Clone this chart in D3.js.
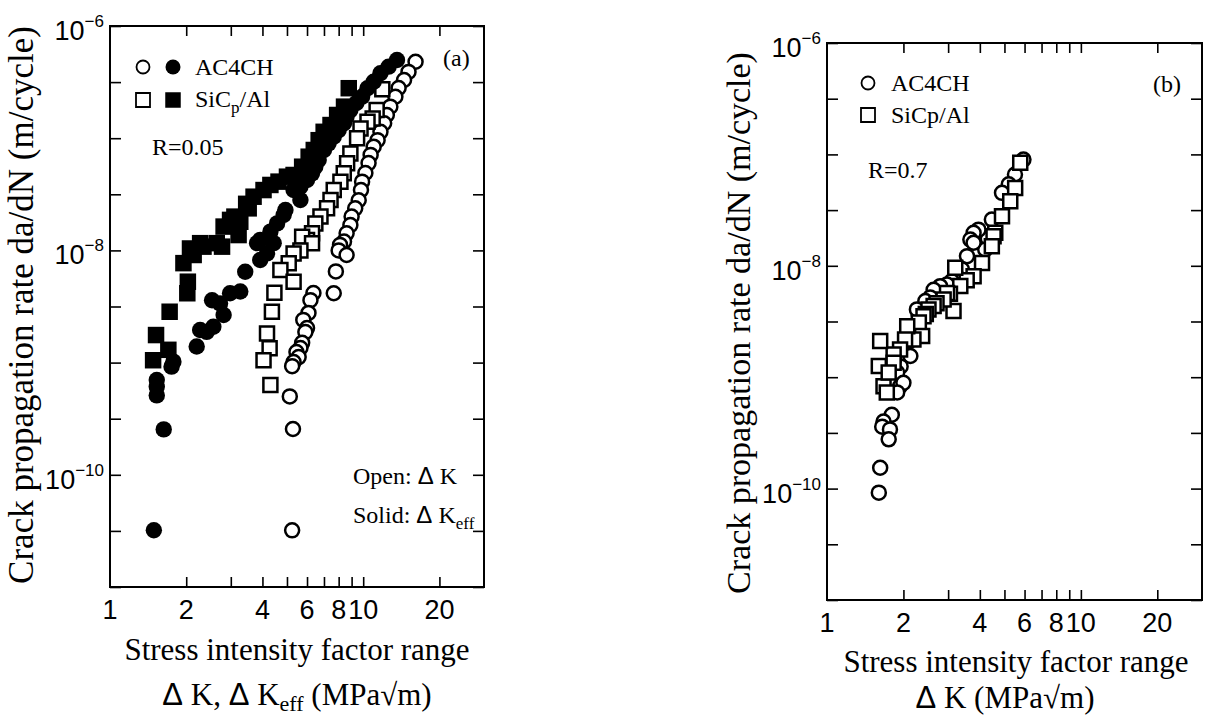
<!DOCTYPE html>
<html><head><meta charset="utf-8">
<script src="https://cdn.jsdelivr.net/npm/d3@7"></script>
<style>body{margin:0;background:#fff}svg{display:block}</style>
</head><body>
<svg id="chart" width="1230" height="718"></svg>
<script>
// ---------------- data ----------------
const xTickValues = [2, 3, 4, 5, 6, 7, 8, 9, 10, 20];
const xTickLabels = [1, 2, 4, 6, 8, 10, 20];
const yTickExponents = [-6, -6.5, -7, -7.5, -8, -8.5, -9, -9.5, -10, -10.5, -11];
const yLabelExponents = [-6, -8, -10];

// Panel (a), R = 0.05 : [ΔK or ΔKeff (MPa√m), da/dN (m/cycle)]
const aAC4CH_dK = [[16.1,4.8e-7],[15.1,3.9e-7],[14.5,3.3e-7],[13.8,2.8e-7],[13.4,2.34e-7],[12.8,1.91e-7],[12.4,1.61e-7],[12.1,1.36e-7],[11.7,1.14e-7],[11.4,9.6e-8],[11.0,8.4e-8],[10.7,7.1e-8],[10.5,6.0e-8],[10.2,4.9e-8],[9.9,4.1e-8],[9.8,3.45e-8],[9.6,2.8e-8],[9.3,2.37e-8],[9.0,2.0e-8],[8.9,1.68e-8],[8.6,1.42e-8],[8.4,1.2e-8],[8.1,1.12e-8],[8.0,1.0e-8],[8.6,9.1e-9],[7.8,6.5e-9],[7.65,4.15e-9],[6.36,4.17e-9],[6.19,3.6e-9],[6.08,2.77e-9],[5.8,2.4e-9],[6.0,2.03e-9],[5.91,1.87e-9],[5.74,1.5e-9],[5.65,1.35e-9],[5.45,1.24e-9],[5.56,1.12e-9],[5.31,1.01e-9],[5.24,9.3e-10],[5.13,5.0e-10],[5.28,2.56e-10],[5.24,3.2e-11]];
const aSiC_dK = [[11.9,2.73e-7],[11.3,1.78e-7],[10.9,1.5e-7],[10.4,1.4e-7],[9.76,1.22e-7],[9.46,9.97e-8],[8.9,7.3e-8],[8.64,5.97e-8],[8.38,4.87e-8],[8.13,4.1e-8],[7.65,3.45e-8],[7.43,2.81e-8],[7.2,2.37e-8],[6.78,2.0e-8],[6.47,1.74e-8],[6.28,1.42e-8],[6.0,1.24e-8],[5.74,1.32e-8],[6.28,1.16e-8],[5.65,1.0e-8],[5.31,9.4e-9],[5.08,7.7e-9],[4.71,6.7e-9],[5.31,5.26e-9],[4.46,4.2e-9],[4.36,2.84e-9],[4.17,1.82e-9],[4.27,1.34e-9],[4.04,1.05e-9],[4.3,6.3e-10]];
const aAC4CH_dKeff = [[13.6,4.98e-7],[12.6,4.34e-7],[11.7,3.79e-7],[11.0,3.19e-7],[10.4,2.79e-7],[9.9,2.34e-7],[9.4,2.06e-7],[8.9,1.78e-7],[8.6,1.56e-7],[8.4,1.36e-7],[8.0,1.18e-7],[7.65,1.03e-7],[7.3,9.0e-8],[7.0,7.85e-8],[6.67,6.4e-8],[6.47,5.57e-8],[6.28,4.86e-8],[6.0,4.24e-8],[5.65,3.7e-8],[5.31,3.45e-8],[5.65,2.81e-8],[4.93,2.29e-8],[4.85,2.07e-8],[4.57,1.74e-8],[4.3,1.47e-8],[4.43,1.16e-8],[3.92,1.24e-8],[3.81,1.16e-8],[4.17,9.4e-9],[3.92,8.2e-9],[3.42,6.46e-9],[3.27,4.3e-9],[2.98,4.15e-9],[2.72,3.37e-9],[2.53,3.6e-9],[2.81,2.66e-9],[2.56,2.09e-9],[2.41,1.88e-9],[2.27,1.95e-9],[2.2,1.39e-9],[1.78,1.02e-9],[1.75,9.2e-10],[1.53,7.0e-10],[1.53,6.1e-10],[1.53,5.1e-10],[1.63,2.54e-10],[1.49,3.2e-11]];
const aSiC_dKeff = [[8.77,2.79e-7],[8.4,1.91e-7],[7.89,1.61e-7],[7.43,1.31e-7],[6.98,1.14e-7],[6.67,9.6e-8],[6.38,7.85e-8],[6.09,6.84e-8],[5.74,5.57e-8],[5.31,4.7e-8],[5.0,4.54e-8],[4.63,4.1e-8],[4.3,3.83e-8],[4.04,3.45e-8],[3.69,3.01e-8],[3.45,2.6e-8],[3.53,2.37e-8],[3.1,2.0e-8],[3.27,1.8e-8],[2.98,1.87e-8],[2.81,1.63e-8],[3.22,1.37e-8],[2.77,1.08e-8],[2.64,1.16e-8],[2.34,1.08e-8],[2.27,1.16e-8],[2.07,1.04e-8],[2.14,9.1e-9],[1.95,7.7e-9],[2.03,5.26e-9],[2.02,4.15e-9],[1.72,2.84e-9],[1.52,1.76e-9],[1.7,1.3e-9],[1.48,1.05e-9]];

// Panel (b), R = 0.7 : [ΔK (MPa√m), da/dN (m/cycle)]
const bAC4CH = [[5.94,8.98e-8],[5.5,6.6e-8],[5.2,5.4e-8],[4.89,4.52e-8],[4.46,2.6e-8],[4.3,1.75e-8],[4.2,1.4e-8],[3.95,2.11e-8],[3.78,1.98e-8],[3.67,1.72e-8],[3.78,1.61e-8],[3.56,1.22e-8],[3.4,9.3e-9],[3.25,8.0e-9],[3.1,7.3e-9],[2.97,6.8e-9],[2.79,6.56e-9],[2.63,6.1e-9],[2.55,5.2e-9],[2.44,4.82e-9],[2.3,3.6e-9],[2.26,4.06e-9],[2.19,2.68e-9],[2.1,2.1e-9],[2.13,1.55e-9],[1.95,1.25e-9],[1.89,1.1e-9],[1.94,8.3e-10],[2.0,8.9e-10],[1.89,7.3e-10],[1.8,4.6e-10],[1.67,4.0e-10],[1.65,3.6e-10],[1.77,3.4e-10],[1.75,2.77e-10],[1.62,1.54e-10],[1.6,9.2e-11]];
const bSiC = [[5.77,8.4e-8],[5.51,5.0e-8],[5.27,3.8e-8],[4.89,2.79e-8],[4.6,1.98e-8],[4.53,1.84e-8],[4.46,1.5e-8],[4.08,1.06e-8],[3.78,8.07e-9],[3.55,7.4e-9],[3.35,6.6e-9],[3.2,9.6e-9],[3.05,5.6e-9],[3.15,3.92e-9],[2.97,5.7e-9],[2.88,4.99e-9],[2.7,4.6e-9],[2.63,4.35e-9],[2.51,4.06e-9],[2.45,3.7e-9],[2.4,3.53e-9],[2.3,3.1e-9],[2.37,2.34e-9],[2.19,2.18e-9],[2.07,2.87e-9],[2.03,2.18e-9],[1.94,1.77e-9],[1.83,1.6e-9],[1.62,2.11e-9],[1.6,1.26e-9],[1.67,8.3e-10],[1.72,7.3e-10],[1.83,1.35e-9],[1.75,1.1e-9]];

// ---------------- drawing ----------------
const SERIF = '"Liberation Serif","Times New Roman",serif';
const SANS = '"Liberation Sans",Arial,sans-serif';
const svg = d3.select('#chart');

function drawPanel(cfg) {
  const g = svg.append('g');
  const x = d3.scaleLog().domain([1, 30]).range([cfg.x0, cfg.x1]);
  const y = d3.scaleLog().domain([1e-11, 1e-6]).range([cfg.y1, cfg.y0]);
  const yTicks = yTickExponents.map(e => Math.pow(10, e));

  const axes = [
    [d3.axisBottom(x).tickValues(xTickValues).tickSize(-10), `translate(0,${cfg.y1})`],
    [d3.axisTop(x).tickValues(xTickValues).tickSize(-10), `translate(0,${cfg.y0})`],
    [d3.axisLeft(y).tickValues(yTicks).tickSize(-11), `translate(${cfg.x0},0)`],
    [d3.axisRight(y).tickValues(yTicks).tickSize(-11), `translate(${cfg.x1},0)`]
  ];
  axes.forEach(([ax, tr]) => {
    const a = g.append('g').attr('transform', tr).call(ax.tickFormat(''));
    a.select('.domain').remove();
    a.selectAll('line').attr('stroke', '#000').attr('stroke-width', 1.6);
  });
  g.append('rect').attr('x', cfg.x0).attr('y', cfg.y0)
    .attr('width', cfg.x1 - cfg.x0).attr('height', cfg.y1 - cfg.y0)
    .attr('fill', 'none').attr('stroke', '#000').attr('stroke-width', 2);

  // x tick labels
  g.selectAll('.xl').data(xTickLabels).join('text')
    .attr('x', d => x(d)).attr('y', cfg.y1 + 32)
    .attr('text-anchor', 'middle').attr('font-family', SANS).attr('font-size', 27)
    .text(d => d);
  // y tick labels
  yLabelExponents.forEach(e => {
    const t = g.append('text').attr('x', cfg.x0 - 6).attr('y', y(Math.pow(10, e)) + 14)
      .attr('text-anchor', 'end').attr('font-family', SANS).attr('font-size', 27);
    t.append('tspan').text('10');
    t.append('tspan').attr('dy', -13).attr('font-size', 17).text('\u2212' + Math.abs(e));
  });

  // y title
  g.append('text').attr('transform', `translate(${cfg.ytx},${cfg.yty}) rotate(-90)`)
    .attr('text-anchor', 'middle').attr('font-family', SERIF).attr('font-size', cfg.ytSize)
    .text('Crack propagation rate da/dN (m/cycle)');
  // x title
  g.append('text').attr('x', cfg.xt1x).attr('y', cfg.xt1y).attr('text-anchor', 'middle')
    .attr('font-family', SERIF).attr('font-size', 31).text('Stress intensity factor range');
  const t2 = g.append('text').attr('x', cfg.xt2x).attr('y', cfg.xt2y).attr('text-anchor', 'middle')
    .attr('font-family', SERIF).attr('font-size', 31);
  cfg.xt2(t2);

  // series
  cfg.series.forEach(s => {
    g.append('g').selectAll('path').data(s.data).join('path')
      .attr('transform', d => `translate(${x(d[0])},${y(d[1])})`)
      .attr('d', s.shape)
      .attr('fill', s.filled ? '#000' : '#fff')
      .attr('stroke', '#000').attr('stroke-width', s.filled ? 0 : 2.5);
  });
  return g;
}

const circleOpen = d3.symbol().type(d3.symbolCircle).size(Math.PI * 7 * 7)();
const circleFill = d3.symbol().type(d3.symbolCircle).size(Math.PI * 8.2 * 8.2)();
const squareOpen = d3.symbol().type(d3.symbolSquare).size(14 * 14)();
const squareFill = d3.symbol().type(d3.symbolSquare).size(16.5 * 16.5)();

function addDelta(t) { return t.append('tspan').attr('font-family', SANS).text('\u0394'); }

const gA = drawPanel({
  x0: 110, x1: 484, y0: 26, y1: 587,
  ytx: 33, yty: 305, ytSize: 35,
  xt1x: 297, xt1y: 660, xt2x: 297, xt2y: 705,
  xt2: t => {
    addDelta(t); t.append('tspan').text(' K, '); addDelta(t); t.append('tspan').text(' K');
    t.append('tspan').attr('dy', 6).attr('font-size', 22).text('eff');
    t.append('tspan').attr('dy', -6).text(' (MPa\u221Am)');
  },
  series: [
    { data: aAC4CH_dK, shape: circleOpen, filled: false },
    { data: aSiC_dK, shape: squareOpen, filled: false },
    { data: aAC4CH_dKeff, shape: circleFill, filled: true },
    { data: aSiC_dKeff, shape: squareFill, filled: true }
  ]
});

const gB = drawPanel({
  x0: 827, x1: 1202, y0: 43, y1: 600,
  ytx: 750, yty: 323, ytSize: 34,
  xt1x: 1016, xt1y: 672, xt2x: 1005, xt2y: 708,
  xt2: t => { addDelta(t); t.append('tspan').text(' K (MPa\u221Am)'); },
  series: [
    { data: bAC4CH, shape: circleOpen, filled: false },
    { data: bSiC, shape: squareOpen, filled: false }
  ]
});

// legends and annotations
const legOpenC = d3.symbol().type(d3.symbolCircle).size(Math.PI * 6.5 * 6.5)();
const legFillC = d3.symbol().type(d3.symbolCircle).size(Math.PI * 7.5 * 7.5)();
const legOpenS = d3.symbol().type(d3.symbolSquare).size(14 * 14)();
const legFillS = d3.symbol().type(d3.symbolSquare).size(15.5 * 15.5)();
function mark(g, px, py, shape, filled) {
  g.append('path').attr('transform', `translate(${px},${py})`).attr('d', shape)
    .attr('fill', filled ? '#000' : '#fff').attr('stroke', '#000').attr('stroke-width', filled ? 0 : 1.8);
}
function txt(g, px, py, size) {
  return g.append('text').attr('x', px).attr('y', py).attr('font-family', SERIF).attr('font-size', size);
}
// (a)
mark(gA, 143, 67, legOpenC, false); mark(gA, 173, 67, legFillC, true);
mark(gA, 143, 100, legOpenS, false); mark(gA, 173, 100, legFillS, true);
txt(gA, 195, 75, 24).text('AC4CH');
{ const t = txt(gA, 195, 107, 24); t.append('tspan').text('SiC');
  t.append('tspan').attr('dy', 6).attr('font-size', 17).text('p');
  t.append('tspan').attr('dy', -6).text('/Al'); }
txt(gA, 152, 155, 24).text('R=0.05');
txt(gA, 443, 66, 24).text('(a)');
{ const t = txt(gA, 353, 484, 24); t.append('tspan').text('Open: '); addDelta(t); t.append('tspan').text(' K'); }
{ const t = txt(gA, 353, 523, 24); t.append('tspan').text('Solid: '); addDelta(t); t.append('tspan').text(' K');
  t.append('tspan').attr('dy', 6).attr('font-size', 17).text('eff'); }
// (b)
mark(gB, 868, 83, legOpenC, false);
mark(gB, 868, 115, legOpenS, false);
txt(gB, 891, 91, 24).text('AC4CH');
txt(gB, 891, 123, 24).text('SiCp/Al');
txt(gB, 868, 178, 24).text('R=0.7');
txt(gB, 1153, 92, 24).text('(b)');
</script>
</body></html>
